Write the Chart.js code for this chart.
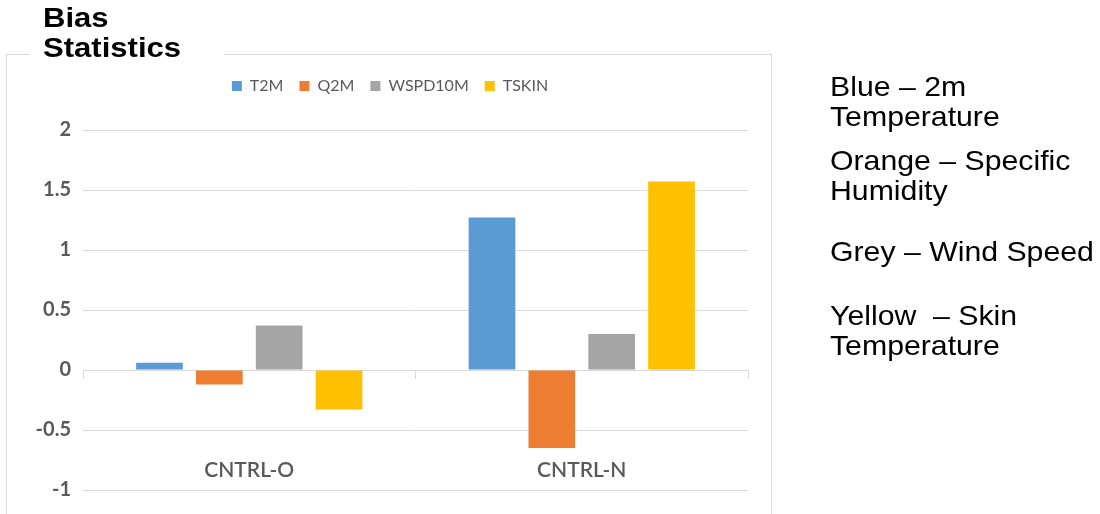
<!DOCTYPE html>
<html>
<head>
<meta charset="utf-8">
<script src="https://cdn.jsdelivr.net/npm/chart.js@4.4.1/dist/chart.umd.min.js"></script>
<style>
  body { margin: 0; background: #fff; }
  #wrap { position: relative; width: 1100px; height: 514px; overflow: hidden; }
  #frame { position: absolute; left: 6px; top: 54px; width: 764px; height: 500px; border: 1px solid #d9d9d9; }
  #myChart { position: absolute; left: 0; top: 0; }
  #titleBg { position: absolute; left: 30px; top: 40px; width: 194px; height: 20px; background: #fff; }
  #title { position: absolute; left: 43px; top: 3px; transform: scaleX(1.15); transform-origin: left top;
           font: bold 27px/30px "Liberation Sans", Arial, sans-serif; color: #000; white-space: pre; }
  .note { position: absolute; left: 830px; font: 28px/30px "Liberation Sans", Arial, sans-serif; color: #000;
          white-space: pre; transform: scaleX(1.08); transform-origin: left top; }
</style>
</head>
<body>
<div id="wrap">
  <div id="frame"></div>
  <canvas id="myChart" width="1100" height="514"></canvas>
  <div id="titleBg"></div>
  <div id="title">Bias<br>Statistics</div>
  <div class="note" style="top:72px">Blue – 2m<br>Temperature</div>
  <div class="note" style="top:146px">Orange – Specific<br>Humidity</div>
  <div class="note" style="top:237px">Grey – Wind Speed</div>
  <div class="note" style="top:301px">Yellow  – Skin<br>Temperature</div>
</div>
<script>
var categories = ['CNTRL-O', 'CNTRL-N'];
var t2m = [0.06, 1.27];
var q2m = [-0.12, -0.65];
var wspd10m = [0.37, 0.30];
var tskin = [-0.33, 1.57];
var yTicks = [-1, -0.5, 0, 0.5, 1, 1.5, 2];
var yTickLabels = ['-1', '-0.5', '0', '0.5', '1', '1.5', '2'];

var axisFont = { family: 'Lato, "Open Sans", sans-serif', size: 20, weight: 'bold' };

// extra room under the legend, like the excel chart
var legendGap = {
    id: 'legendGap',
    beforeInit: function (chart) {
        var fit = chart.legend.fit;
        chart.legend.fit = function () {
            fit.bind(chart.legend)();
            this.height += 26;
        };
    }
};

var ctx = document.getElementById('myChart').getContext('2d');
var myChart = new Chart(ctx, {
    type: 'bar',
    data: {
        labels: categories,
        datasets: [
            { label: 'T2M', data: t2m, backgroundColor: '#5B9BD5' },
            { label: 'Q2M', data: q2m, backgroundColor: '#ED7D31' },
            { label: 'WSPD10M', data: wspd10m, backgroundColor: '#A5A5A5' },
            { label: 'TSKIN', data: tskin, backgroundColor: '#FFC000' }
        ]
    },
    plugins: [legendGap],
    options: {
        responsive: false,
        animation: false,
        barPercentage: 0.78,
        categoryPercentage: 0.72,
        layout: { padding: { left: 32, right: 352, top: 62, bottom: 24 } },
        plugins: {
            tooltip: { enabled: false },
            legend: {
                position: 'top',
                labels: {
                    boxWidth: 10,
                    boxHeight: 10,
                    padding: 16,
                    color: '#595959',
                    font: { family: 'Lato, "Open Sans", sans-serif', size: 16 }
                }
            }
        },
        scales: {
            y: {
                min: -1,
                max: 2,
                afterFit: function (scale) { scale.width = 51; },
                afterBuildTicks: function (scale) {
                    scale.ticks = yTicks.map(function (v) { return { value: v }; });
                },
                ticks: {
                    padding: 12, color: '#595959', font: axisFont,
                    callback: function (value) { return yTickLabels[yTicks.indexOf(value)]; }
                },
                grid: { color: '#d9d9d9', drawTicks: false },
                border: { display: false }
            },
            x: {
                position: { y: 0 },
                offset: true,
                grid: { offset: true, drawOnChartArea: false, drawTicks: true, tickLength: 8, color: '#d9d9d9' },
                border: { display: true, color: '#d9d9d9' },
                ticks: { padding: 80, color: '#595959', font: { family: 'Lato, "Open Sans", sans-serif', size: 21, weight: '600' } }
            }
        }
    }
});
</script>
</body>
</html>
